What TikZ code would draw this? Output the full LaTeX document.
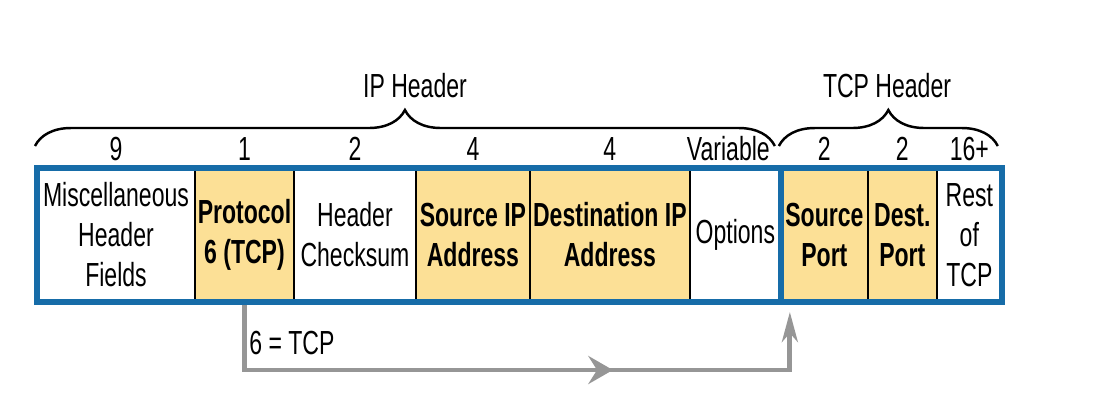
\documentclass[tikz,border=0pt]{standalone}
\usepackage{fontspec}
\setmainfont{Liberation Sans}[FakeStretch=0.69]
\usetikzlibrary{arrows.meta,positioning,calc,decorations.pathreplacing,decorations.markings}
\definecolor{fieldyellow}{RGB}{252,224,150}
\definecolor{ipblue}{RGB}{22,108,168}
\definecolor{flowgray}{RGB}{150,150,150}
\tikzset{field/.style={draw=black, line width=0.9pt, fill=white, outer sep=0pt, inner sep=1pt, minimum height=2.68cm, align=center, font=\fontsize{19}{22.8}\selectfont}}
\tikzset{hfield/.style={field, fill=fieldyellow, font=\fontsize{19}{22.8}\selectfont\bfseries}}
\tikzset{num/.style={inner sep=0pt, font=\fontsize{19}{22}\selectfont}}
\tikzset{brc/.style={decorate, decoration={brace, amplitude=0.72cm}, line width=1.4pt}}
\tikzset{flow/.style={draw=flowgray, line width=2.8pt, -{Stealth[length=17pt, width=9pt, inset=5pt]}}}

\begin{document}
\begin{tikzpicture}[x=0.02cm, y=-0.02cm]
	\useasboundingbox (0,0) rectangle (1108,400);
	% fields of the two headers
	\node[field, minimum width=3.16cm, anchor=north west] (misc) at (37,168) {Miscellaneous\\Header\\Fields};
	\node[hfield, minimum width=1.98cm, right=0pt of misc] (proto) {Protocol\\6 (TCP)};
	\node[field, minimum width=2.44cm, right=0pt of proto] (chk) {Header\\Checksum};
	\node[hfield, minimum width=2.28cm, right=0pt of chk] (srcip) {Source IP\\Address};
	\node[hfield, minimum width=3.2cm, right=0pt of srcip] (dstip) {Destination IP\\Address};
	\node[field, minimum width=1.82cm, right=0pt of dstip] (opts) {Options};
	\node[hfield, minimum width=1.74cm, right=0pt of opts] (sport) {Source\\Port};
	\node[hfield, minimum width=1.38cm, right=0pt of sport] (dport) {Dest.\\Port};
	\node[field, minimum width=1.3cm, right=0pt of dport] (rest) {Rest\\of\\TCP};
	
	\draw[ipblue, line width=3.6pt] (misc.north west) rectangle (rest.south east);
	\draw[ipblue, line width=3.6pt] (opts.north east) -- (opts.south east);
	
	% byte counts
	\node[num, above=4pt of misc] {9};
	\node[num, above=4pt of proto] {1};
	\node[num, above=4pt of chk] {2};
	\node[num, above=4pt of srcip] {4};
	\node[num, above=4pt of dstip] {4};
	\node[num, above=4pt of opts, xshift=-4pt] {Variable};
	\node[num, above=4pt of sport] {2};
	\node[num, above=4pt of dport] {2};
	\node[num, above=4pt of rest] {16+};
	
	\draw[brc] ($(misc.north west)+(-2,-22)$) -- ($(opts.north east)+(-6,-22)$);
	\draw[brc] ($(sport.north west)+(-2,-22)$) -- ($(rest.north east)+(-4,-22)$);
	\node[num] (iphdr) at (415,86) {IP Header};
	\node[num] (tcphdr) at (887,86) {TCP Header};
	
	% protocol field points to the TCP header
	\coordinate (ptip) at ($(sport.south west)+(9,10)$);
	\coordinate (pbend) at (ptip |- 0,370);
	\draw[flow, shorten <=1.7pt, postaction={decorate}, decoration={markings, mark=at position 0.65 with {\arrow{Stealth[length=14pt, width=16pt, inset=5pt]}}}] (proto.south) |- (pbend) -- (ptip);
	\node[num, anchor=west] (six) at (249,343) {6 = TCP};
\end{tikzpicture}
\end{document}
